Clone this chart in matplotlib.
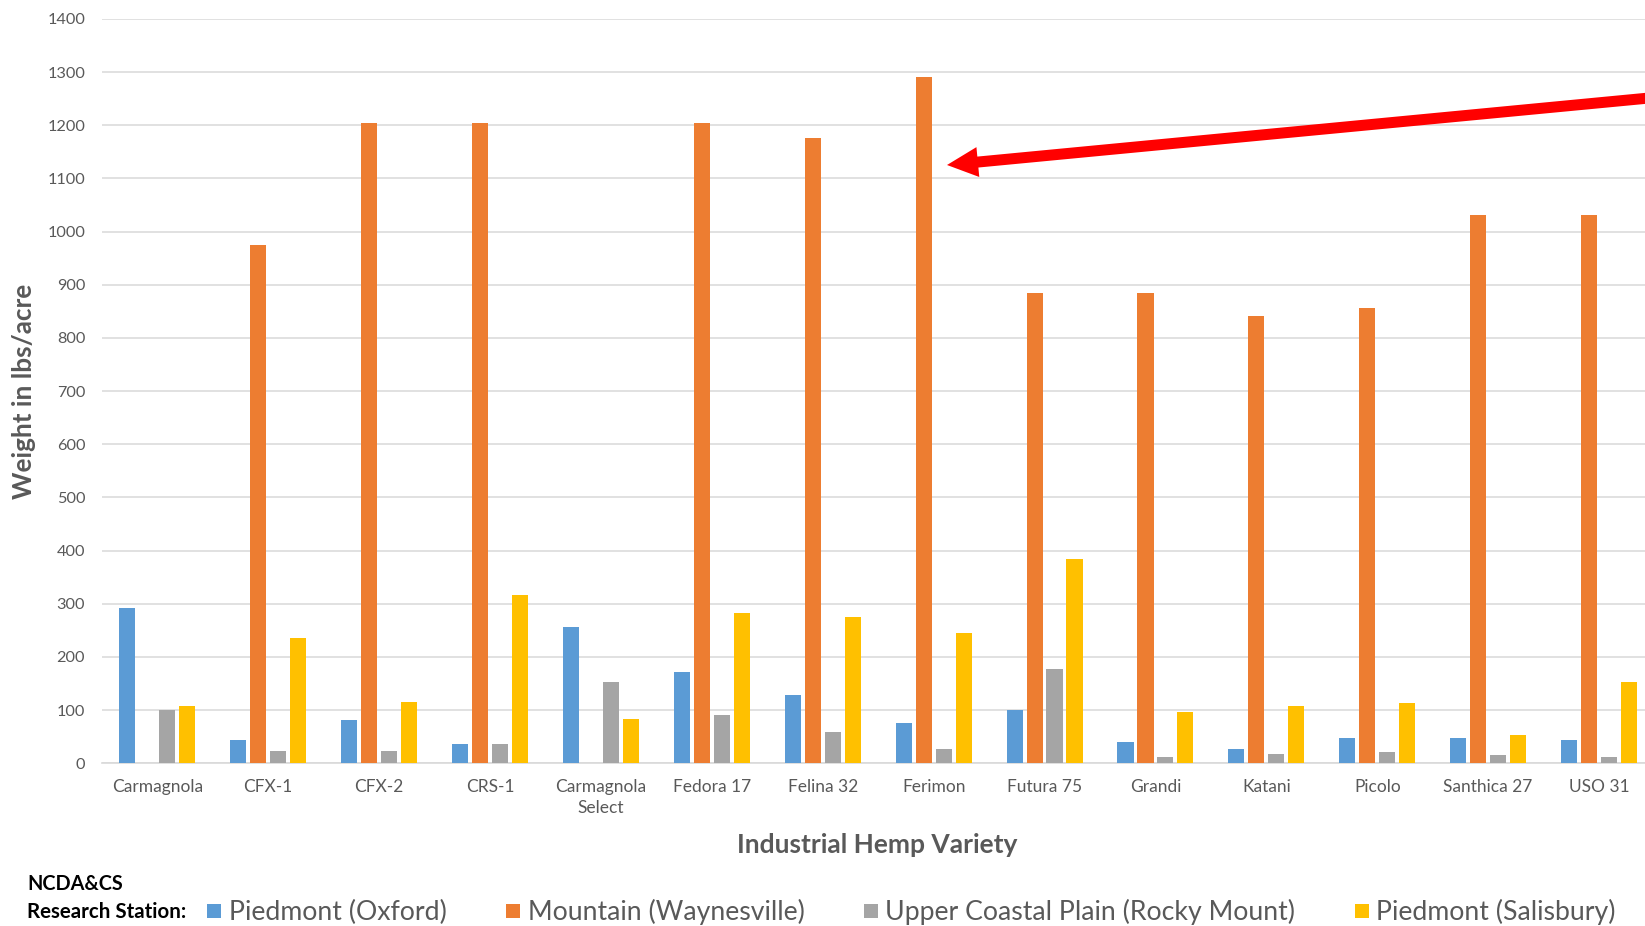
import numpy as np
import matplotlib
matplotlib.use("Agg")
import matplotlib.pyplot as plt
from matplotlib.lines import Line2D
from matplotlib.patches import Polygon

# ---------------- data ----------------
varieties = ["Carmagnola", "CFX-1", "CFX-2", "CRS-1", "Carmagnola\nSelect", "Fedora 17",
             "Felina 32", "Ferimon", "Futura 75", "Grandi", "Katani", "Picolo",
             "Santhica 27", "USO 31"]
piedmont_oxford = [293, 44, 81, 36, 256, 171, 128, 76, 101, 41, 26, 47, 47, 44]
mountain_waynesville = [0, 975, 1205, 1205, 0, 1205, 1176, 1291, 885, 885, 842, 856, 1031, 1031]
upper_coastal_plain = [101, 24, 24, 36, 153, 90, 58, 26, 177, 12, 18, 21, 15, 12]
piedmont_salisbury = [107, 236, 116, 317, 84, 283, 275, 246, 384, 96, 107, 113, 53, 153]

series_names = ["Piedmont (Oxford)", "Mountain (Waynesville)",
                "Upper Coastal Plain (Rocky Mount)", "Piedmont (Salisbury)"]
series_values = [piedmont_oxford, mountain_waynesville, upper_coastal_plain, piedmont_salisbury]
series_colors = ["#5B9BD5", "#ED7D31", "#A5A5A5", "#FFC000"]
yticks = list(range(0, 1401, 100))

# ---------------- figure ----------------
W, H = 1645, 926
plt.rcParams['font.family'] = ['Lato', 'DejaVu Sans']
fig = plt.figure(figsize=(W / 100, H / 100), dpi=100)
ax_left, ax_right = 101.8 / W, 1.0
ax_bottom, ax_top = (H - 763.3) / H, (H - 19) / H
ax = fig.add_axes([ax_left, ax_bottom, ax_right - ax_left, ax_top - ax_bottom])

textgray = "#595959"
x = np.arange(len(varieties))
pitch = 0.18
bw = 0.145
for k, (vals, col) in enumerate(zip(series_values, series_colors)):
    ax.bar(x + (k - 1.5) * pitch, vals, width=bw, color=col, zorder=3, linewidth=0)

ax.set_ylim(0, 1400)
ax.set_xlim(-0.5, (W - 157.4) / 110.9)
ax.set_yticks(yticks)
ax.set_xticks(x)
ax.set_xticklabels(varieties, fontsize=12.5, color=textgray, linespacing=1.35)
ax.tick_params(axis='y', length=0, pad=12, labelsize=11.7, labelcolor=textgray)
ax.tick_params(axis='x', length=0, pad=11.5)
ax.yaxis.grid(True, color="#D9D9D9", linewidth=1.1, zorder=0)
ax.set_axisbelow(True)
for s in ["top", "right", "left"]:
    ax.spines[s].set_visible(False)
ax.spines["bottom"].set_color("#D9D9D9")
ax.spines["bottom"].set_linewidth(1.2)
ax.spines["bottom"].set_zorder(1)

# axis titles
fig.text(877 / W, 1 - 845 / H, "Industrial Hemp Variety", fontsize=19, fontweight="bold",
         color=textgray, ha="center", va="center")
fig.text(24 / W, 1 - 391 / H, "Weight in lbs/acre", fontsize=18.8, fontweight="bold",
         color=textgray, ha="center", va="center", rotation=90)

# legend block
fig.text(27 / W, 1 - 884 / H, "NCDA&CS", fontsize=14.3, fontweight="bold", color="black",
         ha="left", va="center")
fig.text(27 / W, 1 - 912 / H, "Research Station:", fontsize=14.8, fontweight="bold", color="black",
         ha="left", va="center")
handles = [Line2D([], [], marker="s", linestyle="none", markersize=10.5, color=c,
                  markeredgewidth=0) for c in series_colors]
leg_fs = 19.2
leg = fig.legend(handles, series_names, ncol=4, loc="center left",
                 bbox_to_anchor=(207 / W, 1 - 912 / H), frameon=False,
                 fontsize=leg_fs, handlelength=0.56, handletextpad=0.27,
                 columnspacing=2.2, borderpad=0, borderaxespad=0)
for t in leg.get_texts():
    t.set_color(textgray)

# red arrow (annotation), geometry in pixel coordinates (y downward)
tip = np.array([947.0, 165.0])
tail = np.array([1665.0, 96.5])
d = (tail - tip) / np.linalg.norm(tail - tip)
perp = np.array([-d[1], d[0]])
head_len, head_half, shaft_half = 31.0, 15.0, 5.5
base = tip + head_len * d
pts = [tip, base + head_half * perp, base + shaft_half * perp, tail + shaft_half * perp,
       tail - shaft_half * perp, base - shaft_half * perp, base - head_half * perp]
pts_fig = [(p[0] / W, 1 - p[1] / H) for p in pts]
fig.add_artist(Polygon(pts_fig, closed=True, transform=fig.transFigure,
                       facecolor="#FF0000", edgecolor="none", zorder=10))

fig.savefig("out.png", dpi=100)
